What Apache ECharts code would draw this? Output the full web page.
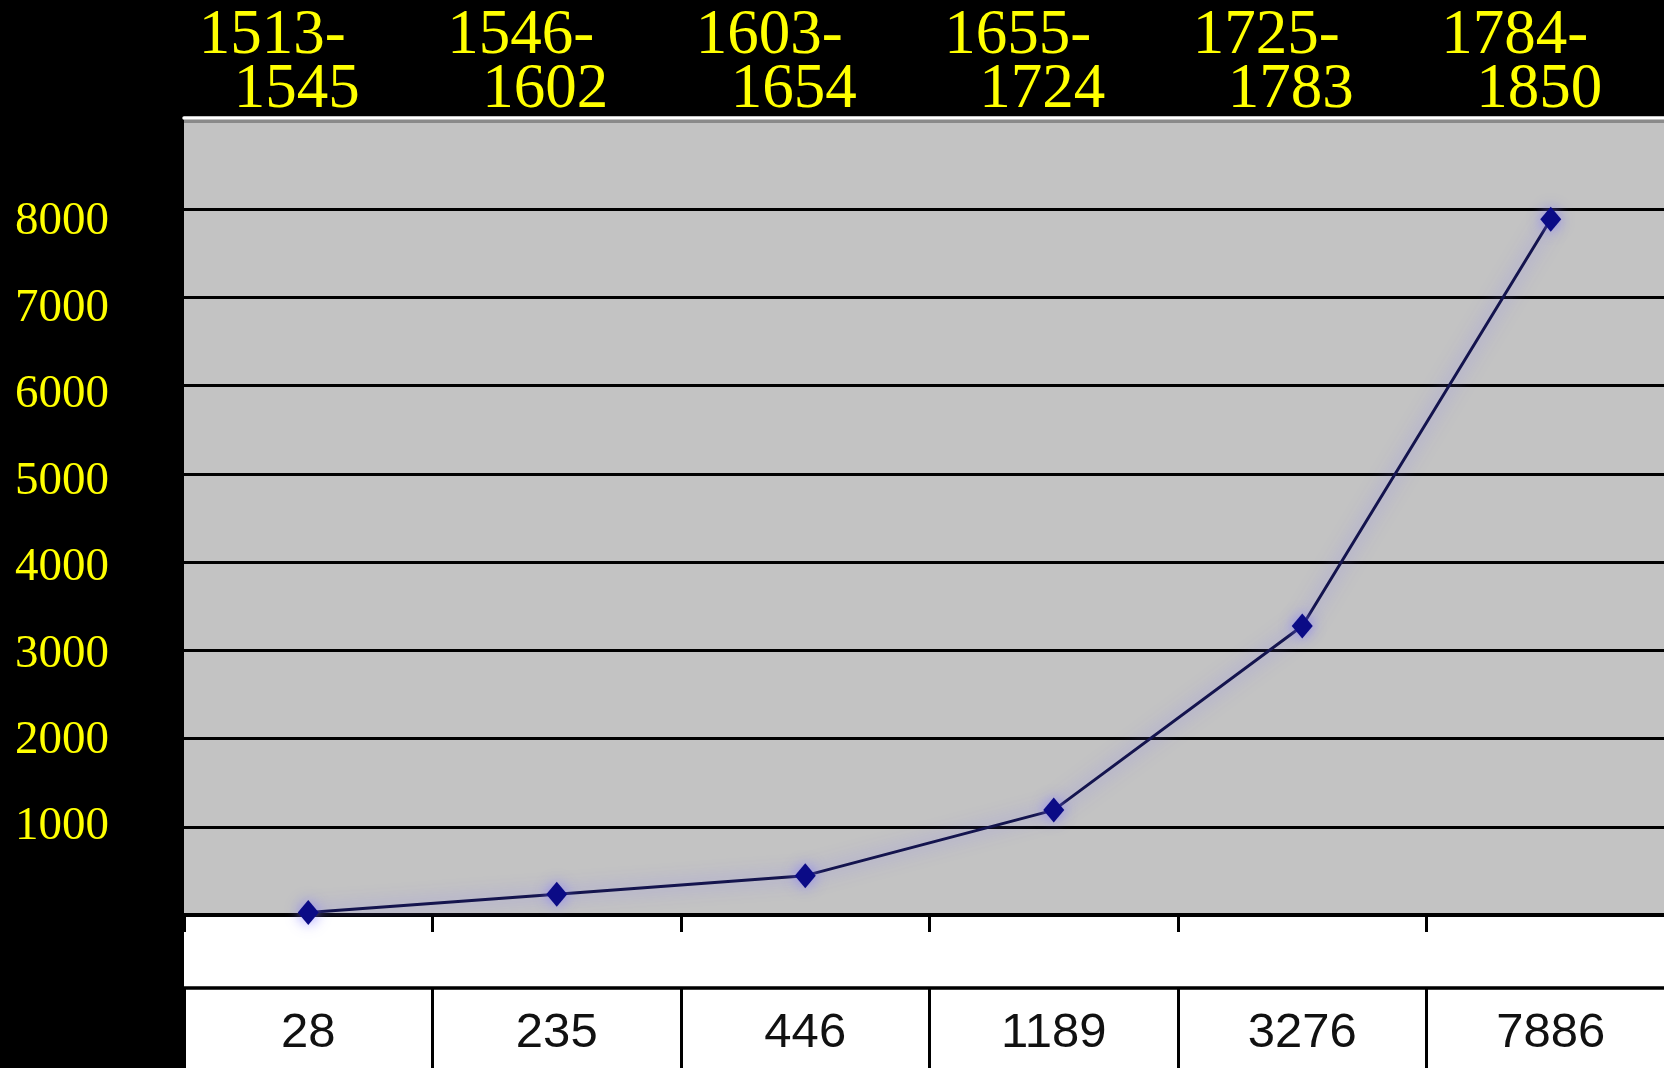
<!DOCTYPE html>
<html>
<head>
<meta charset="utf-8">
<script src="https://cdn.jsdelivr.net/npm/echarts@6.0.0/dist/echarts.min.js"></script>
<style>
  html, body { margin: 0; padding: 0; background: #000; }
  #chart { width: 1664px; height: 1068px; }
</style>
</head>
<body>
<div id="chart"></div>
<script>
const periods = ['1513-1545', '1546-1602', '1603-1654', '1655-1724', '1725-1783', '1784-1850']
const values = [28, 235, 446, 1189, 3276, 7886]
const yTicks = [1000, 2000, 3000, 4000, 5000, 6000, 7000, 8000]

const chart = echarts.init(document.getElementById('chart'))

const serif = '"Liberation Serif", "Times New Roman", serif'
const yellow = '#ffff00'

// grey 9000 line at the top, black for the rest
const splitColors = Array(9).fill('#000').concat(['#8a8a8a'])

const option = {
  backgroundColor: '#000',
  animation: false,
  grid: [
    { left: 184, right: -11, top: 121, bottom: 153, show: true, backgroundColor: '#c3c3c3', borderWidth: 0, outerBoundsMode: 'none' },
    { left: 184, right: -11, top: 917, bottom: 0, show: true, backgroundColor: '#fff', borderWidth: 0, outerBoundsMode: 'none' }
  ],
  xAxis: [
    {
      type: 'category',
      gridIndex: 0,
      position: 'top',
      offset: 3.5,
      data: periods,
      axisLine: { show: true, onZero: false, lineStyle: { color: '#fff', width: 3.5 } },
      axisTick: { show: false },
      splitLine: { show: false },
      axisLabel: {
        interval: 0,
        margin: 0,
        formatter: (v) => {
          const [a, b] = v.split('-')
          return '{a|' + a + '-}\n{b|' + b + '}'
        },
        rich: {
          a: { fontFamily: serif, fontSize: 63, color: yellow, lineHeight: 54, padding: [0, 72, 0, 0] },
          b: { fontFamily: serif, fontSize: 63, color: yellow, lineHeight: 54, padding: [0, 23, 0, 0] }
        }
      }
    },
    {
      type: 'category',
      gridIndex: 0,
      position: 'bottom',
      data: periods,
      axisLine: { show: true, onZero: false, lineStyle: { color: '#000', width: 4 } },
      axisTick: { show: true, length: 17, lineStyle: { color: '#000', width: 3 } },
      axisLabel: { show: false },
      splitLine: { show: false }
    },
    {
      // the value table under the chart
      type: 'category',
      gridIndex: 1,
      position: 'top',
      offset: -71,
      data: values.map(String),
      axisLine: { show: true, onZero: false, lineStyle: { color: '#000', width: 3.5 } },
      axisTick: { show: true, inside: true, length: 82, lineStyle: { color: '#000', width: 3 } },
      splitLine: { show: false },
      axisLabel: {
        interval: 0,
        inside: true,
        margin: 20,
        fontFamily: '"Liberation Sans Narrow", "Liberation Sans", Arial, sans-serif',
        fontSize: 49,
        lineHeight: 50,
        color: '#111'
      }
    }
  ],
  yAxis: [
    {
      type: 'value',
      gridIndex: 0,
      min: 0,
      max: 9000,
      interval: 1000,
      axisLine: { show: false },
      axisTick: { show: false },
      axisLabel: { show: false },
      splitLine: { show: true, lineStyle: { color: splitColors, width: 3 } }
    },
    {
      // label axis, its labels sit a little off the grid lines as in the source
      type: 'value',
      gridIndex: 0,
      position: 'left',
      min: -18,
      max: 9169,
      splitNumber: 9,
      axisLine: { show: false },
      axisTick: { show: false },
      splitLine: { show: false },
      axisLabel: {
        margin: 75,
        fontFamily: serif,
        fontSize: 47,
        color: yellow,
        formatter: (v) => (yTicks.includes(Math.round(v)) ? String(Math.round(v)) : '')
      }
    },
    {
      type: 'value',
      gridIndex: 1,
      show: false
    }
  ],
  series: [
    {
      type: 'line',
      xAxisIndex: 0,
      yAxisIndex: 0,
      data: values,
      symbol: 'diamond',
      symbolSize: [21, 25],
      lineStyle: {
        color: '#14144e',
        width: 3,
        shadowColor: 'rgba(130, 120, 255, 0.85)',
        shadowBlur: 18
      },
      itemStyle: {
        color: '#0b0b86',
        shadowColor: 'rgba(130, 120, 255, 0.8)',
        shadowBlur: 14
      },
      emphasis: { disabled: true }
    }
  ]
}

chart.setOption(option)
</script>
</body>
</html>
